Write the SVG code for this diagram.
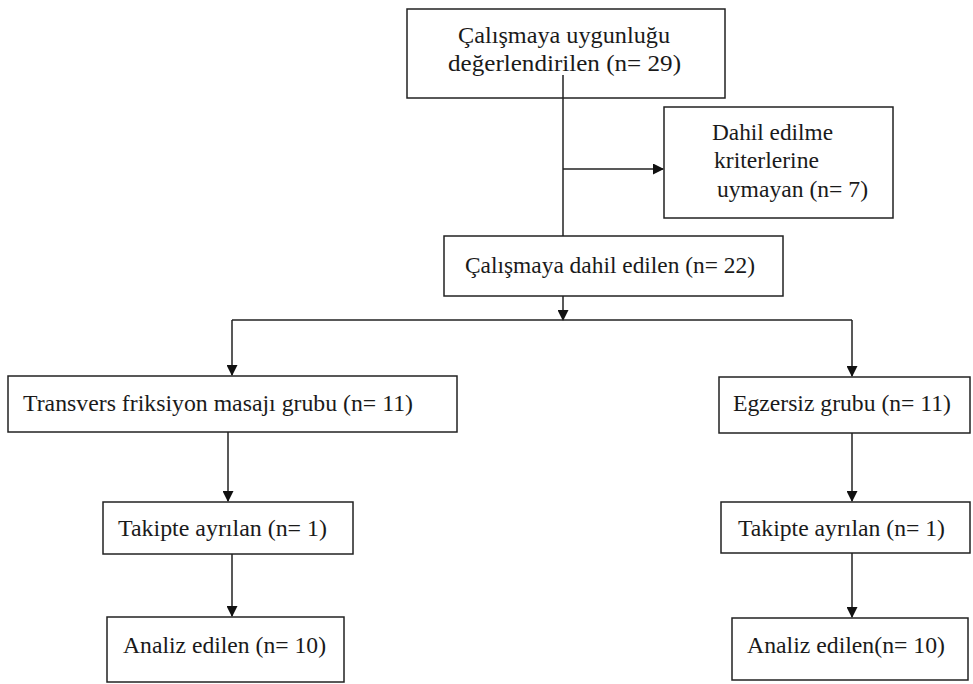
<svg xmlns="http://www.w3.org/2000/svg" width="973" height="684" viewBox="0 0 973 684">
<style>
.box{fill:#fff;stroke:#222;stroke-width:1.5}
text{font-family:'Liberation Serif','Times New Roman',serif;font-size:23px;fill:#1a1a1a}
.c{fill:none;stroke:#222;stroke-width:1.5}
</style>
<defs>
<marker id="ah" markerWidth="11" markerHeight="11" refX="10" refY="5.5" orient="auto" markerUnits="userSpaceOnUse">
<path d="M0,0 L11,5.5 L0,11 Z" fill="#111"/>
</marker>
</defs>
<rect width="973" height="684" fill="#fff"/>
<g id="n1"><rect class="box" x="407" y="9" width="318" height="89"/>
<text x="458" y="43" textLength="212" lengthAdjust="spacingAndGlyphs">Çalışmaya uygunluğu</text>
<text x="448" y="71" textLength="233" lengthAdjust="spacingAndGlyphs">değerlendirilen (n= 29)</text></g>
<g id="n2"><rect class="box" x="664" y="107" width="229" height="111"/>
<text x="712" y="140" textLength="121" lengthAdjust="spacingAndGlyphs">Dahil edilme</text>
<text x="714" y="168" textLength="105" lengthAdjust="spacingAndGlyphs">kriterlerine</text>
<text x="717" y="197" textLength="151" lengthAdjust="spacingAndGlyphs">uymayan (n= 7)</text></g>
<g id="n3"><rect class="box" x="444" y="236" width="339" height="60"/>
<text x="465" y="273" textLength="290" lengthAdjust="spacingAndGlyphs">Çalışmaya dahil edilen (n= 22)</text></g>
<g id="n4"><rect class="box" x="8" y="376" width="449" height="56"/>
<text x="23" y="411" textLength="390" lengthAdjust="spacingAndGlyphs">Transvers friksiyon masajı grubu (n= 11)</text></g>
<g id="n5"><rect class="box" x="719" y="377" width="251" height="56"/>
<text x="733" y="411" textLength="218" lengthAdjust="spacingAndGlyphs">Egzersiz grubu (n= 11)</text></g>
<g id="n6"><rect class="box" x="103" y="502" width="250" height="52"/>
<text x="118" y="536" textLength="209" lengthAdjust="spacingAndGlyphs">Takipte ayrılan (n= 1)</text></g>
<g id="n7"><rect class="box" x="721" y="502" width="249" height="51"/>
<text x="738" y="536" textLength="207" lengthAdjust="spacingAndGlyphs">Takipte ayrılan (n= 1)</text></g>
<g id="n8"><rect class="box" x="107" y="617" width="237" height="65"/>
<text x="123" y="653" textLength="203" lengthAdjust="spacingAndGlyphs">Analiz edilen (n= 10)</text></g>
<g id="n9"><rect class="box" x="732" y="618" width="236" height="62"/>
<text x="747" y="653" textLength="198" lengthAdjust="spacingAndGlyphs">Analiz edilen(n= 10)</text></g>
<g id="connectors">
<line class="c" x1="563" y1="75" x2="563" y2="236"/>
<line class="c" x1="563" y1="169" x2="663" y2="169" marker-end="url(#ah)"/>
<line class="c" x1="563" y1="296" x2="563" y2="320" marker-end="url(#ah)"/>
<line class="c" x1="232" y1="320" x2="852" y2="320"/>
<line class="c" x1="232" y1="320" x2="232" y2="375" marker-end="url(#ah)"/>
<line class="c" x1="852" y1="320" x2="852" y2="376" marker-end="url(#ah)"/>
<line class="c" x1="228" y1="432" x2="228" y2="501" marker-end="url(#ah)"/>
<line class="c" x1="852" y1="433" x2="852" y2="501" marker-end="url(#ah)"/>
<line class="c" x1="232" y1="554" x2="232" y2="616" marker-end="url(#ah)"/>
<line class="c" x1="852" y1="553" x2="852" y2="617" marker-end="url(#ah)"/>
</g>
</svg>
